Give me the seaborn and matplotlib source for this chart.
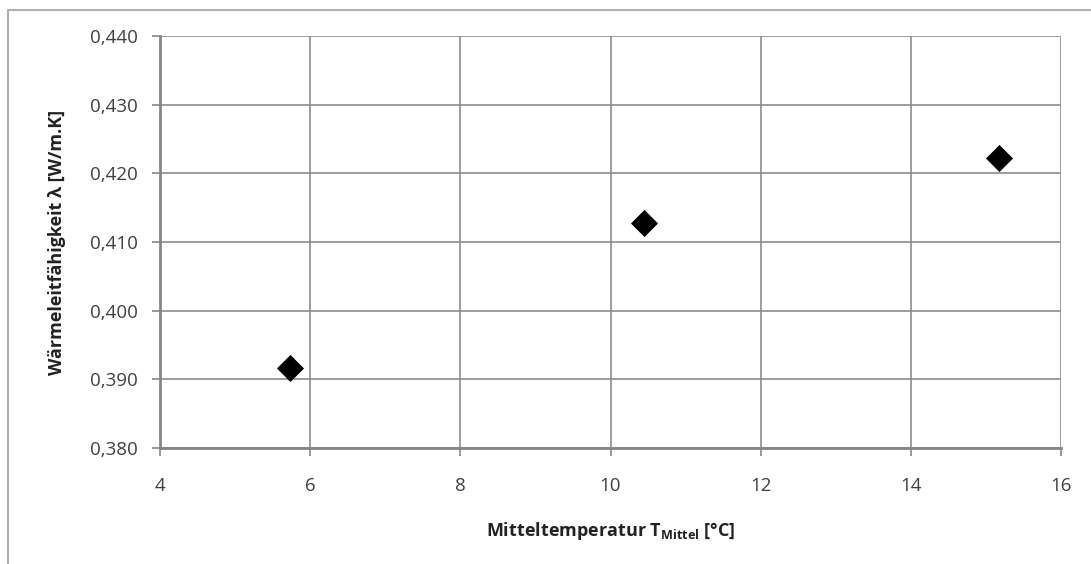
import matplotlib
matplotlib.use("Agg")
import matplotlib.pyplot as plt
import seaborn as sns
import pandas as pd
from matplotlib.lines import Line2D
from matplotlib.ticker import FuncFormatter

# data
temperature = [5.73, 10.44, 15.17]
conductivity = [0.3917, 0.4127, 0.4222]
x_ticks = [4, 6, 8, 10, 12, 14, 16]
y_ticks = [0.380, 0.390, 0.400, 0.410, 0.420, 0.430, 0.440]

df = pd.DataFrame({"T": temperature, "lam": conductivity})

sns.set_style("white")
plt.rcParams["font.family"] = ["Open Sans", "DejaVu Sans"]
plt.rcParams["mathtext.fontset"] = "custom"
plt.rcParams["mathtext.rm"] = "Open Sans"
plt.rcParams["mathtext.bf"] = "Open Sans:bold"

fig = plt.figure(figsize=(10.91, 5.64), dpi=100)
ax = fig.add_axes([0.1467, 0.2057, 0.8258, 0.7305])

sns.scatterplot(data=df, x="T", y="lam", ax=ax, marker="D", s=190,
                color="black", edgecolor="black", linewidth=0, zorder=3)

ax.set_xlim(4, 16)
ax.set_ylim(0.38, 0.44)
ax.set_xticks(x_ticks)
ax.set_yticks(y_ticks)
ax.yaxis.set_major_formatter(FuncFormatter(lambda v, p: f"{v:.3f}".replace(".", ",")))
ax.grid(True, color="#8c8c8c", linewidth=1.2)
ax.set_axisbelow(True)

for side in ["top", "right"]:
    ax.spines[side].set_visible(False)
for side in ["left", "bottom"]:
    ax.spines[side].set_color("#868686")
    ax.spines[side].set_linewidth(2)

ax.tick_params(axis="both", which="major", length=6, width=1.2, color="#868686",
               labelsize=13.5, labelcolor="#404040", direction="out",
               left=True, bottom=True)
ax.tick_params(axis="x", pad=15)
ax.tick_params(axis="y", pad=10)

ax.set_xlabel(r"Mitteltemperatur T$_{\mathbf{Mittel}}$ [°C]", fontsize=13,
              fontweight="bold", color="#222222", labelpad=18)
ax.set_ylabel("Wärmeleitfähigkeit λ [W/m.K]", fontsize=13, fontweight="bold",
              color="#222222", labelpad=17)

# outer chart frame (only top and left edges visible)
fig.add_artist(Line2D([8 / 1091, 1.0], [1 - 10 / 564, 1 - 10 / 564],
                      transform=fig.transFigure, color="#b0b0b0", linewidth=1.5))
fig.add_artist(Line2D([8 / 1091, 8 / 1091], [0.0, 1 - 10 / 564],
                      transform=fig.transFigure, color="#b0b0b0", linewidth=1.5))

fig.savefig("out.png", dpi=100)
